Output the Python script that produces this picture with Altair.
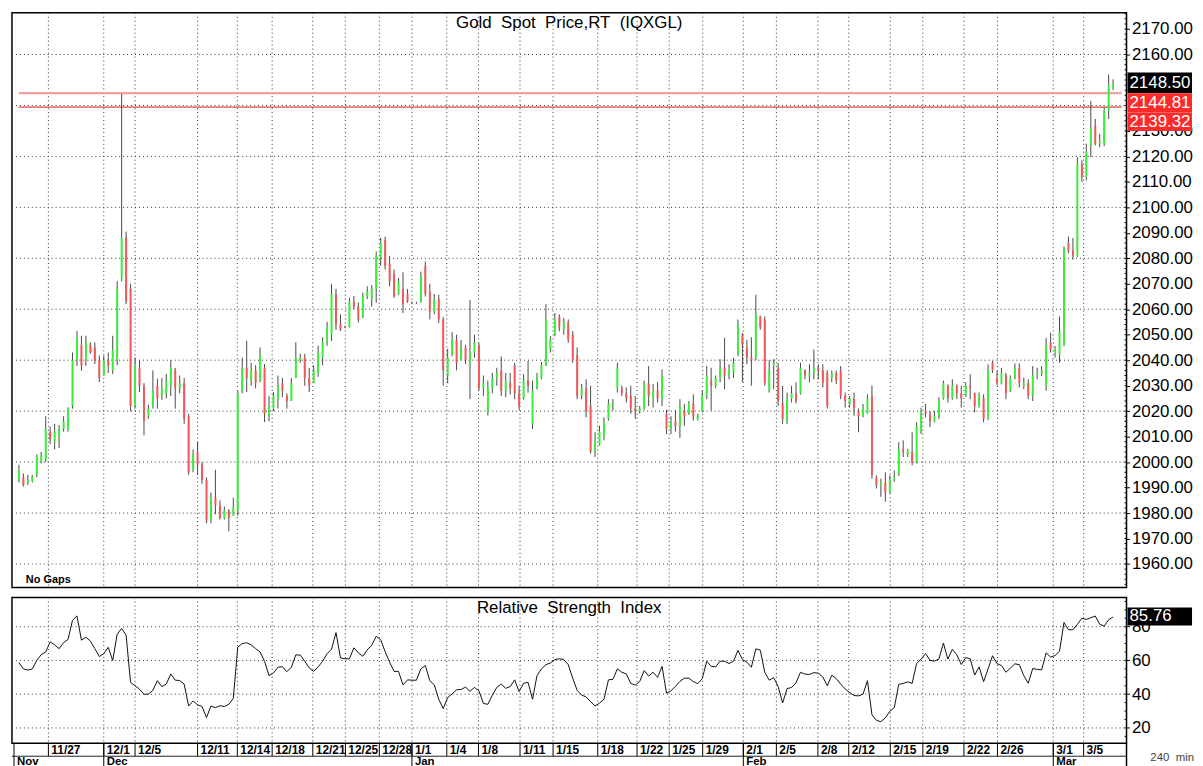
import altair as alt
import pandas as pd

# ---------------- data (240-min bars) ----------------
opens = [1993,1994,1992,1992.5,1995,2000,2001,2012,2008,2010,2013,2013,2022,2040,2046,2040,2046,2045,2040,2034,
         2040,2036,2040,2072,2088,2068,2022,2037,2030,2018,2022,2030,2026,2027,2030,2036,2029,2031,2018,1997,
         2004,1999,1993,1977,1986,1983,1978,1981,1979,1981,2028,2037,2032,2036,2032,2037,2018,2021,2025,2031,
         2026,2024,2033,2040,2041,2033,2031,2035,2041,2047,2050,2066,2054,2053,2053,2063,2061,2057,2065,2064,
         2068,2080,2087,2078,2074,2066,2068,2066,2062.5,2062.5,2063,2077,2067,2059,2064,2056,2034,2042,2048,2040,
         2045,2039,2043,2046,2029,2019.5,2029,2033,2036,2028,2031,2038,2027,2025,2032,2015,2029,2033,2038,2044,
         2050,2057,2052,2055,2050,2042,2026,2029,2022,2004,2007,2010,2017,2022,2029,2029,2027,2026,2021,2020,
         2021,2031,2025,2028,2025,2019,2013,2016,2014,2020,2019,2023,2017,2020,2026,2032,2030,2033,2037,2034,
         2035,2042,2050,2045,2041,2041,2057,2056,2028,2038,2037,2023,2016,2025,2027,2027,2036,2034,2035,2037,
         2036,2035,2033,2035,2036,2026,2023,2025,2020,2018,2019,2026,1994,1991,1992,1988,1993,1995,2005,2003,
         2004,2000,2012,2020,2019,2016,2018,2025,2030,2025,2030,2027,2026,2030,2027,2022,2025,2017,2039,2033,
         2031,2034,2028,2033,2037,2030,2031,2026,2034,2035,2030,2047,2043,2042,2046,2086,2083,2081,2117,2112,
         2124,2132,2125,2125,2138,2147]
highs = [1999,1995.5,1995,1995,2003,2004,2018,2014,2015,2014.5,2018,2021.5,2043,2051.5,2049.6,2049.6,2047,2047,2041.8,2041.8,
         2043,2049.6,2071,2144.5,2090.5,2070,2041,2040,2031,2022.5,2036,2032.7,2033,2034.6,2040,2037,2034,2033,2019,2005,
         2008,2000,1994,1988,1997,1985,1982.5,1981.5,1986,2028,2041,2047.6,2039,2038,2045,2038.5,2026,2027.5,2034,2033,
         2027,2033,2047,2042.5,2042.5,2037,2038,2045.7,2049,2055,2070,2068,2058,2053.5,2064.5,2065.2,2062.6,2066.5,2069,2069.5,
         2082.7,2088,2088.5,2081,2075.6,2072.3,2074.5,2068,2063,2063,2074.8,2078.7,2070,2066,2065.7,2057,2044.5,2051,2050,2048,
         2046,2063.7,2050,2046.8,2034,2032,2035,2037,2041.5,2035,2035,2039,2030,2034.5,2039.7,2032,2035,2039.3,2062,2049.4,
         2058.5,2058,2056.6,2056,2051.4,2045,2030.6,2032.5,2030,2011.7,2014.3,2017.6,2024.7,2024.7,2039,2030,2029.3,2030,2026,2022,
         2032,2037.7,2030.6,2031.3,2036.4,2020.5,2018,2020.5,2024.7,2022.8,2024,2026.6,2019,2028,2037.7,2037,2034,2040.4,2048.8,2038.4,
         2041,2056,2050.7,2048,2049,2065.7,2057.5,2057.2,2040,2040.4,2039,2030,2027.3,2030,2031.3,2039,2036.4,2038.4,2044.2,2038.4,
         2038.4,2036,2036,2036,2037.7,2027.3,2026,2027.3,2021,2022.8,2026.6,2030,1994.8,1993.5,1996,1994.8,1996.7,2007.8,2008.5,2005.2,
         2011.7,2015.6,2021.4,2022.8,2020,2020,2025.5,2032,2030.5,2032.5,2030.5,2030,2031.3,2034.5,2027.3,2027.3,2026.6,2038.4,2039.7,2035.8,
         2037,2035,2034,2038.7,2038.7,2033.2,2032.5,2037.7,2037,2037.7,2048.8,2050.7,2045.5,2057.2,2084.6,2088.5,2088,2119.7,2118.4,2125,
         2141.8,2134.7,2128.8,2139.2,2152.2,2150.3]
lows = [1992,1990.4,1991,1992,1994,1999.5,2000,2007,2005,2005.5,2012,2012,2021,2037.8,2035.9,2037.8,2042.5,2038.5,2031.4,2034,
        2035,2034.6,2038,2071,2062,2020,2021,2027.5,2010.5,2017,2021,2021,2024.5,2025,2026,2021,2027,2015,1995,1996,
        1995,1991.5,1976,1976,1979.5,1977.5,1977.5,1972.8,1979,1979,2027,2027.5,2030,2029,2031.4,2015.7,2016,2020,2021,2025.5,
        2021,2024,2033,2039,2030,2027.5,2031,2033.5,2038,2045.7,2047.6,2052,2051.5,2052.5,2052.8,2060,2054.8,2056.5,2064,2061,
        2062.6,2077,2075.6,2069,2064.5,2065.5,2058.5,2062.5,2062,2062,2062.5,2065,2056,2058,2054.6,2030,2031,2041.6,2036,2040,
        2038.5,2024.7,2041,2028,2026,2018.3,2027,2030,2026,2025.5,2026.5,2024.7,2020.4,2024.5,2027.3,2013,2028.5,2032.5,2037.7,2043,
        2049.4,2051.3,2050,2046.8,2039,2024.7,2024.7,2017.6,2003.3,2002,2006.5,2008.5,2016.3,2020.2,2027.3,2026,2023.4,2019,2017,2019,
        2020.5,2022,2021.4,2023.4,2022,2011,2011,2012,2009.5,2014.3,2018.5,2016.3,2016.3,2019.5,2024.7,2020.2,2029,2031.3,2028.6,2032.5,
        2033,2041.6,2031.3,2038.4,2030,2040,2052,2030,2027.3,2028.6,2022,2015,2015,2023.4,2023,2026.5,2032.5,2031.3,2032.5,2032.5,
        2029.3,2021,2031.3,2030.6,2024.7,2021.4,2021.4,2018.2,2011.7,2017.6,2018.9,1993.5,1989.6,1986.4,1984.5,1987.7,1992.3,1994.5,2002,2002,
        1998.7,1999.5,2011,2017.6,2013.7,2015.6,2017,2024.5,2023.4,2024.5,2024.7,2021.4,2025.5,2024.7,2019.5,2021.4,2015.6,2016.5,2035,2030,
        2030.5,2024.7,2027.5,2032.5,2029.3,2028.6,2024.7,2024,2032.5,2033.8,2028,2043,2041,2039,2045.5,2082,2079.5,2080.5,2110,2110.6,
        2119.7,2124.3,2123.6,2124,2134.7,2146]
closes = [1997,1991,1993,1994.5,2002,2003,2013,2009,2012,2013,2016,2021,2040,2049,2038,2047,2043,2040,2033,2040,
          2038,2044,2068,2088,2063,2022,2038,2030,2016,2021,2028,2025,2029,2032,2037,2029,2031,2017,1996,2003,
          1999,1993,1977,1986,1983,1978,1981,1978,1982,2027,2037,2033,2036,2031,2042,2019,2022,2026,2030,2028,
          2024,2031,2041,2041,2033,2030,2036,2043,2047,2053,2066,2054,2052,2053,2063,2061,2056,2065,2067,2068,
          2081,2086,2077,2071,2065,2071,2062,2063,2062.5,2062.5,2073,2066,2059,2064,2056,2036,2041,2048,2039,2045,
          2040,2043,2047,2029,2031,2029,2033,2035,2028,2032,2029,2027,2022,2032,2030,2028,2033,2038,2056,2048,
          2056,2053,2055,2048,2040,2026,2029,2020,2004,2008,2012,2016,2023,2023,2037,2027,2025,2021,2020,2021,
          2031,2026,2028,2025,2034,2013,2016,2014,2022,2018,2023,2018,2018.5,2026,2034,2030,2033,2037,2034,2036,
          2039,2054,2046,2041,2040,2058,2053,2031,2036,2039,2024,2017,2025,2027,2024,2037,2034,2035,2037,2036,
          2031,2022,2035,2032,2026,2024,2025,2021,2018,2021,2025,1995,1991,1992,1988,1993,1994,2005,2004,2004.5,
          2000,2014,2020,2019,2016,2018,2024,2031,2025,2030,2027,2025,2030,2029,2022,2026,2017,2036,2036,2031,
          2035,2027,2033,2037,2031,2031,2026,2034,2035,2036,2046,2044,2044,2051,2084,2083,2081,2117,2112,2122,
          2131,2125,2126,2138,2148,2148.5]
rsi = [58.7,55,54.3,55,60,63.5,65,71,69.2,67,70.5,72.5,83.8,86.4,72,73.8,71.5,67,62.3,64,
       67.8,60,75.5,79,75,47,45,43,40,40,42.3,48,44.5,46,52,48.3,48.1,46,33,36,
       33.7,32.7,26.2,33,32,33.2,32.7,34,37.5,67.9,70,70.5,69.2,67,65,59.5,51,52.6,56,56.3,
       53.3,56,63.3,63.2,59.5,55.6,53.5,56.2,59.5,64,66.7,76.5,61.5,61,61,67.5,64.5,62.5,66.3,69,
       74.3,72.3,65.2,59,53.5,53.5,45.5,48.5,48.3,48.3,55,57,48,45.5,37,31.5,38,40.2,42.6,42.8,
       44.2,41.7,44,42,34.5,34,39.4,44,46,43.5,44.5,48.5,41.5,46.5,47,37,51,55,57.5,58.5,
       60.5,61,60.5,57.5,49.5,42.2,39.5,38.4,35.6,33,34.7,37,48.5,48.8,55,53,52,46.4,45.4,47.5,
       54,50.8,53,50,56.5,40.6,42,44.6,47.6,49.5,49.5,47.5,46.2,49.2,59.5,56.5,56.2,59.5,59.5,58.2,
       59.5,66,60.5,59,56,66.9,66.1,53,48.3,49.8,44.5,34.8,43.3,44,46.7,53,51.9,51.7,52.8,52.4,
       50.2,45,51.2,49.3,46,43.1,41,39.2,39,40,48,27.8,24.5,23.7,26,29.8,32,45.8,46.4,47.3,
       46.4,58.2,60.7,64.1,60.1,59.6,60.9,70.3,60.8,66.6,63.3,57.6,61.7,61,51.3,56.2,47.4,55,62.8,58.1,
       57,53,55.5,58,57.5,51,46.5,55.2,54.7,54.4,64.5,62,62.9,65.5,82.5,78.2,78.2,81.4,85,84.3,
       85.3,86.3,81.5,80.3,84.2,85.76]

day_tick_pos = [6.6,19.0,26.0,40.0,48.9,56.7,65.8,73.1,80.7,88.0,95.8,102.9,112.2,119.6,129.6,138.4,
                145.6,153.1,162.2,169.6,178.9,185.8,195.1,202.4,211.6,219.1,231.6,238.4]
day_labels = ["11/27","12/1","12/5","12/11","12/14","12/18","12/21","12/25","12/28","1/1","1/4","1/8",
              "1/11","1/15","1/18","1/22","1/25","1/29","2/1","2/5","2/8","2/12","2/15","2/19","2/22",
              "2/26","3/1","3/5"]
month_pos = [-1.1, 19.0, 88.0, 162.2, 231.6]
month_labels = ["Nov", "Dec", "Jan", "Feb", "Mar"]
# 2140 and 2150 labels sit fully under the price badges in the reference
price_ticks = [v for v in range(1960, 2171, 10) if v not in (2140, 2150)]
price_minor = list(range(1952, 2177, 2))
price_grid = list(range(1960, 2161, 20))
rsi_ticks = [20, 40, 60, 80]
rsi_minor = list(range(15, 97, 5))
last_price = 2148.50
ref_levels = [2144.81, 2139.32]
rsi_last = 85.76
NB = "\u00a0"
price_title = f"Gold{NB}{NB}Spot{NB}{NB}Price,RT{NB}{NB}(IQXGL)"
rsi_title = f"Relative{NB}{NB}Strength{NB}{NB}Index"
interval_text = f"240{NB}{NB}min"

# ---------------- layout / style ----------------
N = len(opens)
W, H1, H2 = 1123, 579, 147
X_DOM = [-1.556, 248.0]
P_DOM = [1950.77, 2176.35]
R_DOM = [10.88, 97.35]
FONT = "Liberation Sans"
GREEN, RED, WICK = "#3ded3d", "#f25858", "#4a4a4a"
GRID = "#333333"

xs = alt.Scale(domain=X_DOM, nice=False, zero=False)
ps = alt.Scale(domain=P_DOM, nice=False, zero=False)
rs = alt.Scale(domain=R_DOM, nice=False, zero=False)

axis_style = dict(orient="right", domain=False, tickSize=3, tickColor="#000", labelPadding=2,
                  labelFont=FONT, labelFontSize=17, labelColor="#000", grid=False, title=None)
P_AXIS = alt.Axis(values=price_ticks, format=".2f", **axis_style)
R_AXIS = alt.Axis(values=rsi_ticks, format="d", **axis_style)

bars = pd.DataFrame({"i": list(range(N)), "o": opens, "h": highs, "l": lows, "c": closes})
rsi_df = pd.DataFrame({"i": list(range(N)), "r": rsi})
days = pd.DataFrame({"pos": day_tick_pos, "lab": day_labels})
months = pd.DataFrame({"pos": month_pos, "lab": month_labels})


def text_layer(txt, x, y, size, weight="normal", color="#000", align="center"):
    return alt.Chart(pd.DataFrame({"t": [txt]})).mark_text(
        font=FONT, fontSize=size, fontWeight=weight, color=color, align=align, baseline="middle"
    ).encode(text="t:N", x=alt.value(x), y=alt.value(y))


def badges(vals, offs, halves, colors, scale, axis, ppu, fmt):
    rows = []
    for v, off, hh, col in zip(vals, offs, halves, colors):
        rows.append({"v": v, "top": v - (off - hh) / ppu, "bot": v - (off + hh) / ppu,
                     "mid": v - off / ppu, "txt": fmt.format(v), "col": col})
    df = pd.DataFrame(rows)
    box = alt.Chart(df).mark_rect().encode(
        x=alt.value(W + 1), x2=alt.value(W + 66),
        y=alt.Y("top:Q", scale=scale, axis=axis), y2="bot:Q",
        color=alt.Color("col:N", scale=None, legend=None))
    txt = alt.Chart(df).mark_text(font=FONT, fontSize=17, color="#ffffff", align="left",
                                  baseline="middle").encode(
        x=alt.value(W + 3), y=alt.Y("mid:Q", scale=scale, axis=axis), text="txt:N")
    return [box, txt]


# ---------------- price panel ----------------
hgrid = alt.Chart(pd.DataFrame({"v": price_grid})).mark_rule(
    color=GRID, strokeDash=[1, 3], strokeWidth=1).encode(
    y=alt.Y("v:Q", scale=ps, axis=P_AXIS), x=alt.value(0), x2=alt.value(W))
pminor = alt.Chart(pd.DataFrame({"v": price_minor})).mark_rule(color="#000", strokeWidth=1).encode(
    y=alt.Y("v:Q", scale=ps, axis=P_AXIS), x=alt.value(W - 2), x2=alt.value(W))
vgrid = alt.Chart(days).mark_rule(color=GRID, strokeDash=[1, 3], strokeWidth=1).encode(
    x=alt.X("pos:Q", scale=xs, axis=None), y=alt.value(0), y2=alt.value(H1))

lines_df = pd.DataFrame({"v": ref_levels, "a": [0, 0], "b": [N + 0.9, N + 0.9],
                         "col": ["#f4a0a0", "#e04646"], "w": [2.2, 1.2]})
ref_lines = alt.Chart(lines_df).mark_rule().encode(
    y=alt.Y("v:Q", scale=ps, axis=P_AXIS),
    x=alt.X("a:Q", scale=xs, axis=None), x2="b:Q",
    color=alt.Color("col:N", scale=None, legend=None),
    strokeWidth=alt.StrokeWidth("w:Q", scale=None, legend=None))

base = alt.Chart(bars).transform_calculate(
    hi="max(datum.h, datum.o, datum.c)",
    lo="min(datum.l, datum.o, datum.c)",
    dir="datum.c >= datum.o ? 'up' : 'dn'")
wicks = base.mark_rule(color=WICK, strokeWidth=1).encode(
    x=alt.X("i:Q", scale=xs, axis=None),
    y=alt.Y("lo:Q", scale=ps, axis=P_AXIS), y2="hi:Q")
bodies = base.mark_rule(strokeWidth=2).encode(
    x=alt.X("i:Q", scale=xs, axis=None),
    y=alt.Y("o:Q", scale=ps, axis=P_AXIS), y2="c:Q",
    color=alt.Color("dir:N", scale=alt.Scale(domain=["up", "dn"], range=[GREEN, RED]), legend=None))

ppu_p = H1 / (P_DOM[1] - P_DOM[0])
price_badges = badges([last_price] + ref_levels, [-1, 9.5, 14.5], [10.5, 9.5, 9.5],
                      ["#000000", "#ff2b2b", "#ff2b2b"], ps, P_AXIS, ppu_p, "{:.2f}")

price_panel = alt.layer(
    hgrid, pminor, vgrid, ref_lines, wicks, bodies,
    text_layer(price_title, W / 2, 10, 17),
    text_layer("No Gaps", 14, H1 - 8, 11, weight="bold", align="left"),
    *price_badges,
).properties(width=W, height=H1)

# ---------------- RSI panel ----------------
rgrid = alt.Chart(pd.DataFrame({"v": rsi_ticks})).mark_rule(
    color=GRID, strokeDash=[1, 3], strokeWidth=1).encode(
    y=alt.Y("v:Q", scale=rs, axis=R_AXIS), x=alt.value(0), x2=alt.value(W))
rminor = alt.Chart(pd.DataFrame({"v": rsi_minor})).mark_rule(color="#000", strokeWidth=1).encode(
    y=alt.Y("v:Q", scale=rs, axis=R_AXIS), x=alt.value(W - 2), x2=alt.value(W))
rvgrid = alt.Chart(days).mark_rule(color=GRID, strokeDash=[1, 3], strokeWidth=1).encode(
    x=alt.X("pos:Q", scale=xs, axis=None), y=alt.value(0), y2=alt.value(H2))
rsi_line = alt.Chart(rsi_df).mark_line(color="#111111", strokeWidth=1).encode(
    x=alt.X("i:Q", scale=xs, axis=None), y=alt.Y("r:Q", scale=rs, axis=R_AXIS))

ppu_r = H2 / (R_DOM[1] - R_DOM[0])
rsi_badge = badges([rsi_last], [-0.5], [9.0], ["#000000"], rs, R_AXIS, ppu_r, "{:.2f}")

day_ticks = alt.Chart(days).mark_rule(color="#000", strokeWidth=1).encode(
    x=alt.X("pos:Q", scale=xs, axis=None), y=alt.value(H2), y2=alt.value(H2 + 13))
day_text = alt.Chart(days).mark_text(font=FONT, fontSize=12, fontWeight="bold", align="left",
                                     baseline="middle", dx=3).encode(
    x=alt.X("pos:Q", scale=xs, axis=None), y=alt.value(H2 + 6.5), text="lab:N")
sep = alt.Chart(pd.DataFrame({"v": [0]})).mark_rule(color="#222222", strokeWidth=1).encode(
    x=alt.value(0), x2=alt.value(W), y=alt.value(H2 + 13))
axis_ext = alt.Chart(pd.DataFrame({"v": [0]})).mark_rule(color="#000", strokeWidth=1.5).encode(
    x=alt.value(W), y=alt.value(H2), y2=alt.value(H2 + 25))
month_ticks = alt.Chart(months).mark_rule(color="#000", strokeWidth=1).encode(
    x=alt.X("pos:Q", scale=xs, axis=None), y=alt.value(H2), y2=alt.value(H2 + 25))
month_text = alt.Chart(months).mark_text(font=FONT, fontSize=11.5, fontWeight="bold", align="left",
                                         baseline="middle", dx=3).encode(
    x=alt.X("pos:Q", scale=xs, axis=None), y=alt.value(H2 + 19.2), text="lab:N")

rsi_panel = alt.layer(
    rgrid, rminor, rvgrid, rsi_line,
    text_layer(rsi_title, W / 2, 11, 17),
    *rsi_badge,
    day_ticks, day_text, sep, axis_ext, month_ticks, month_text,
    text_layer(interval_text, W + 24, H2 + 15, 11.5, color="#444444", align="left"),
).properties(width=W, height=H2)

chart = alt.vconcat(price_panel, rsi_panel, spacing=6).properties(
    padding={"left": 2, "top": 0, "right": 0, "bottom": 0},
    background="#ffffff",
).configure_view(stroke="#000000", strokeWidth=1.5)

chart.save("out.html", embed_options={"renderer": "svg", "actions": False})
